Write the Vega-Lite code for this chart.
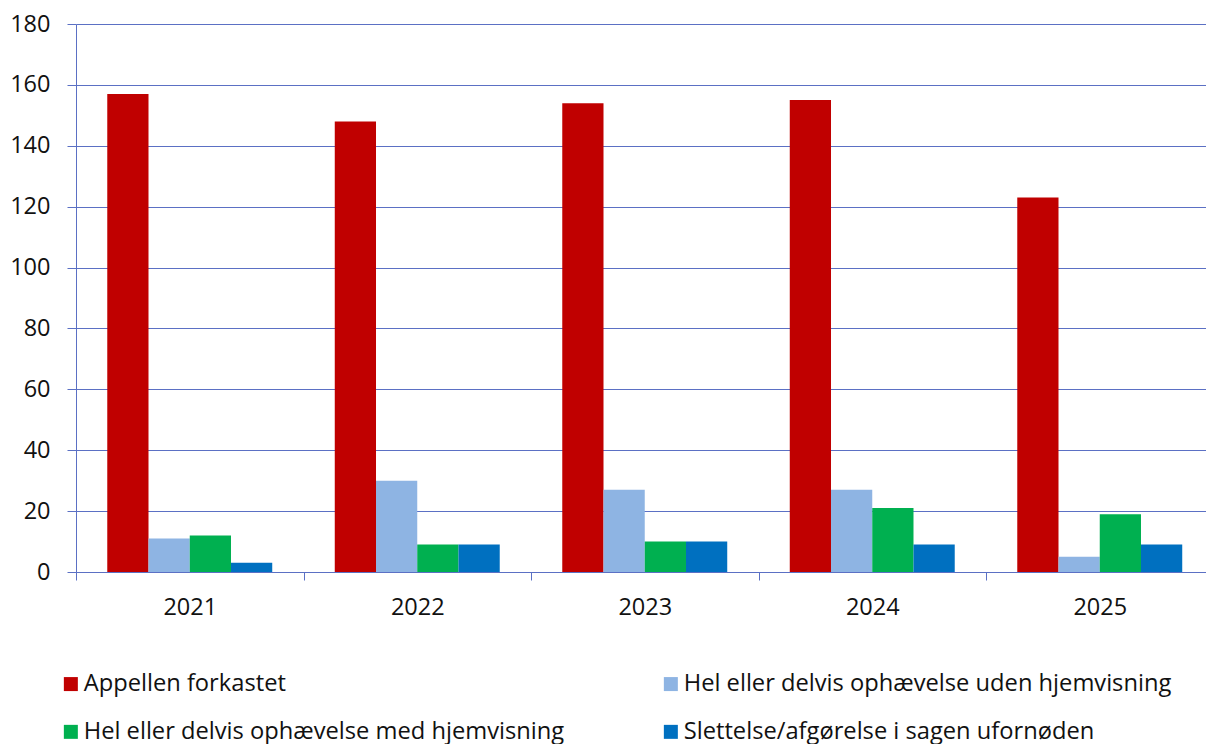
{
  "$schema": "https://vega.github.io/schema/vega-lite/v6.json",
  "width": 1137.5,
  "height": 548,
  "autosize": "none",
  "padding": {"left": 76, "top": 24, "right": 0, "bottom": 172},
  "config": {
    "font": "Open Sans",
    "view": {"stroke": null}
  },
  "data": {
    "values": [
      {"year": "2021", "kategori": "Appellen forkastet", "antal": 157},
      {"year": "2021", "kategori": "Hel eller delvis ophævelse uden hjemvisning", "antal": 11},
      {"year": "2021", "kategori": "Hel eller delvis ophævelse med hjemvisning", "antal": 12},
      {"year": "2021", "kategori": "Slettelse/afgørelse i sagen ufornøden", "antal": 3},
      {"year": "2022", "kategori": "Appellen forkastet", "antal": 148},
      {"year": "2022", "kategori": "Hel eller delvis ophævelse uden hjemvisning", "antal": 30},
      {"year": "2022", "kategori": "Hel eller delvis ophævelse med hjemvisning", "antal": 9},
      {"year": "2022", "kategori": "Slettelse/afgørelse i sagen ufornøden", "antal": 9},
      {"year": "2023", "kategori": "Appellen forkastet", "antal": 154},
      {"year": "2023", "kategori": "Hel eller delvis ophævelse uden hjemvisning", "antal": 27},
      {"year": "2023", "kategori": "Hel eller delvis ophævelse med hjemvisning", "antal": 10},
      {"year": "2023", "kategori": "Slettelse/afgørelse i sagen ufornøden", "antal": 10},
      {"year": "2024", "kategori": "Appellen forkastet", "antal": 155},
      {"year": "2024", "kategori": "Hel eller delvis ophævelse uden hjemvisning", "antal": 27},
      {"year": "2024", "kategori": "Hel eller delvis ophævelse med hjemvisning", "antal": 21},
      {"year": "2024", "kategori": "Slettelse/afgørelse i sagen ufornøden", "antal": 9},
      {"year": "2025", "kategori": "Appellen forkastet", "antal": 123},
      {"year": "2025", "kategori": "Hel eller delvis ophævelse uden hjemvisning", "antal": 5},
      {"year": "2025", "kategori": "Hel eller delvis ophævelse med hjemvisning", "antal": 19},
      {"year": "2025", "kategori": "Slettelse/afgørelse i sagen ufornøden", "antal": 9}
    ]
  },
  "mark": {"type": "bar"},
  "encoding": {
    "x": {
      "field": "year",
      "type": "nominal",
      "scale": {"paddingInner": 0, "paddingOuter": 0},
      "axis": {
        "title": null,
        "labelAngle": 0,
        "labelFontSize": 23.5,
        "labelFont": "Open Sans",
        "labelColor": "#111111",
        "tickBand": "extent",
        "tickSize": 8,
        "labelPadding": 15,
        "domainColor": "#5b70c4",
        "tickColor": "#5b70c4",
        "grid": false
      }
    },
    "xOffset": {
      "field": "kategori",
      "type": "nominal",
      "sort": ["Appellen forkastet", "Hel eller delvis ophævelse uden hjemvisning", "Hel eller delvis ophævelse med hjemvisning", "Slettelse/afgørelse i sagen ufornøden"],
      "scale": {"paddingInner": 0, "paddingOuter": 0.758}
    },
    "y": {
      "field": "antal",
      "type": "quantitative",
      "scale": {"domain": [0, 180], "nice": false},
      "axis": {
        "title": null,
        "values": [0, 20, 40, 60, 80, 100, 120, 140, 160, 180],
        "labelFontSize": 23.5,
        "labelFont": "Open Sans",
        "labelColor": "#111111",
        "tickSize": 9,
        "labelPadding": 17,
        "domainColor": "#5b70c4",
        "tickColor": "#5b70c4",
        "gridColor": "#5b70c4",
        "gridOpacity": 1,
        "grid": true
      }
    },
    "color": {
      "field": "kategori",
      "type": "nominal",
      "sort": ["Appellen forkastet", "Hel eller delvis ophævelse uden hjemvisning", "Hel eller delvis ophævelse med hjemvisning", "Slettelse/afgørelse i sagen ufornøden"],
      "scale": {
        "domain": ["Appellen forkastet", "Hel eller delvis ophævelse uden hjemvisning", "Hel eller delvis ophævelse med hjemvisning", "Slettelse/afgørelse i sagen ufornøden"],
        "range": ["#c00000", "#8eb4e3", "#00b050", "#0070c0"]
      },
      "legend": {
        "title": null,
        "orient": "none",
        "direction": "horizontal",
        "legendX": -17,
        "legendY": 648,
        "columns": 2,
        "columnPadding": 94,
        "rowPadding": 23,
        "symbolType": "square",
        "symbolSize": 196,
        "symbolStrokeWidth": 0,
        "symbolOpacity": 1,
        "labelFontSize": 23.7,
        "labelFont": "Open Sans",
        "labelColor": "#111111",
        "labelOffset": 1,
        "labelLimit": 700,
        "padding": 0
      }
    }
  }
}
